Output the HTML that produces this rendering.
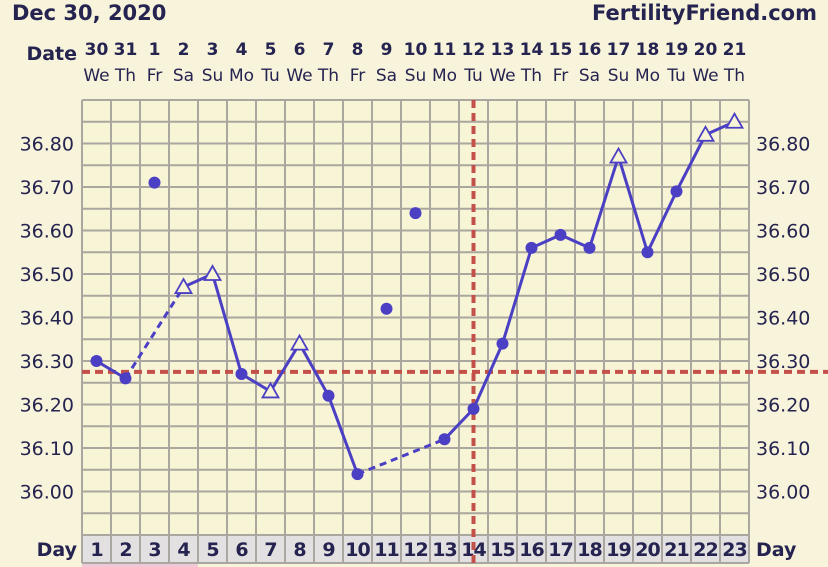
<!DOCTYPE html><html><head><style>
body{margin:0;background:#f8f4dc;}
svg{display:block}
</style></head><body>
<svg width="828" height="567" xmlns="http://www.w3.org/2000/svg" font-family="Verdana, 'DejaVu Sans', sans-serif">
<rect width="828" height="567" fill="#f8f4dc"/>
<text x="12" y="20" font-size="21" font-weight="bold" fill="#25234f" font-family="'DejaVu Sans', sans-serif">Dec 30, 2020</text>
<text x="817" y="20" font-size="21" font-weight="bold" fill="#25234f" text-anchor="end" font-family="'DejaVu Sans', sans-serif">FertilityFriend.com</text>
<text x="77" y="60" font-size="19" font-weight="bold" fill="#25234f" text-anchor="end" font-family="'DejaVu Sans', sans-serif">Date</text>
<g id="g"></g>
<script>
const NS="http://www.w3.org/2000/svg",g=document.getElementById('g');
function el(t,a,txt){const e=document.createElementNS(NS,t);for(const k in a)e.setAttribute(k,a[k]);if(txt!==undefined)e.textContent=txt;g.appendChild(e);return e;}
const L=82,W=29,N=23,T=100,S=21.75,B=535;
const X=i=>L+W*(i-0.5), Y=v=>143.5+(36.80-v)*435;
const dates=[30,31,1,2,3,4,5,6,7,8,9,10,11,12,13,14,15,16,17,18,19,20,21];
const dows=["We","Th","Fr","Sa","Su","Mo","Tu","We","Th","Fr","Sa","Su","Mo","Tu","We","Th","Fr","Sa","Su","Mo","Tu","We","Th"];
for(let i=1;i<=N;i++){
 el('text',{x:X(i),y:55,'font-size':17,'font-weight':'bold',fill:'#25234f','text-anchor':'middle','font-family':"'DejaVu Sans',sans-serif"},dates[i-1]);
 el('text',{x:X(i),y:81,'font-size':17,fill:'#25234f','text-anchor':'middle'},dows[i-1]);
}
el('rect',{x:L,y:T,width:W*N,height:B-T,fill:'#f8f4d6'});
el('rect',{x:L,y:B,width:W*N,height:28,fill:'#e2e0e0'});
el('rect',{x:L,y:564,width:W*4,height:5,fill:'#f0c8d8'});
for(let k=0;k<=20;k++){let y=T+k*S;el('line',{x1:L,x2:L+W*N,y1:y,y2:y,stroke:'#a9a79f','stroke-width':2});}
el('line',{x1:L,x2:L+W*N,y1:563,y2:563,stroke:'#a9a79f','stroke-width':2});
for(let i=0;i<=N;i++){let x=L+W*i;el('line',{x1:x,x2:x,y1:T,y2:563,stroke:'#a9a79f','stroke-width':2});}
for(let k=0;k<=8;k++){let v=36.8-k*0.1,y=Y(v)+7;
 el('text',{x:74,y:y,'font-size':19,fill:'#25234f','text-anchor':'end'},v.toFixed(2));
 el('text',{x:756,y:y,'font-size':19,fill:'#25234f'},v.toFixed(2));}
for(let i=1;i<=N;i++)el('text',{x:X(i),y:556,'font-size':19,'font-weight':'bold',fill:'#25234f','text-anchor':'middle','font-family':"'DejaVu Sans',sans-serif",'letter-spacing':'-1'},i);
el('text',{x:77,y:556,'font-size':19,'font-weight':'bold',fill:'#25234f','text-anchor':'end','font-family':"'DejaVu Sans',sans-serif"},'Day');
el('text',{x:756,y:556,'font-size':19,'font-weight':'bold',fill:'#25234f','font-family':"'DejaVu Sans',sans-serif"},'Day');
el('line',{x1:L,x2:828,y1:Y(36.275),y2:Y(36.275),stroke:'#c4504a','stroke-width':4,'stroke-dasharray':'8,5'});
el('line',{x1:473.5,x2:473.5,y1:T,y2:567,stroke:'#c4504a','stroke-width':4,'stroke-dasharray':'8,5'});
const d={1:[36.30,'c'],2:[36.26,'c'],3:[36.71,'c'],4:[36.47,'t'],5:[36.50,'t'],6:[36.27,'c'],7:[36.23,'t'],8:[36.34,'t'],9:[36.22,'c'],10:[36.04,'c'],11:[36.42,'c'],12:[36.64,'c'],13:[36.12,'c'],14:[36.19,'c'],15:[36.34,'c'],16:[36.56,'c'],17:[36.59,'c'],18:[36.56,'c'],19:[36.77,'t'],20:[36.55,'c'],21:[36.69,'c'],22:[36.82,'t'],23:[36.85,'t']};
const C='#4b3fc4';
const segs=[[1,2,0],[2,4,1],[4,5,0],[5,6,0],[6,7,0],[7,8,0],[8,9,0],[9,10,0],[10,13,1]];
for(let i=13;i<23;i++)segs.push([i,i+1,0]);
for(const [a,b,ds] of segs){const o={x1:X(a),y1:Y(d[a][0]),x2:X(b),y2:Y(d[b][0]),stroke:C,'stroke-width':3};if(ds)o['stroke-dasharray']='7,5';el('line',o);}
for(let i=1;i<=N;i++){const [v,t]=d[i];const x=X(i),y=Y(v);
 if(t=='c')el('circle',{cx:x,cy:y,r:6,fill:C});
 else el('polygon',{points:`${x},${y-8} ${x-8},${y+6} ${x+8},${y+6}`,fill:'#f8f4d6',stroke:C,'stroke-width':1.8});}
</script>
</svg>
</body></html>
